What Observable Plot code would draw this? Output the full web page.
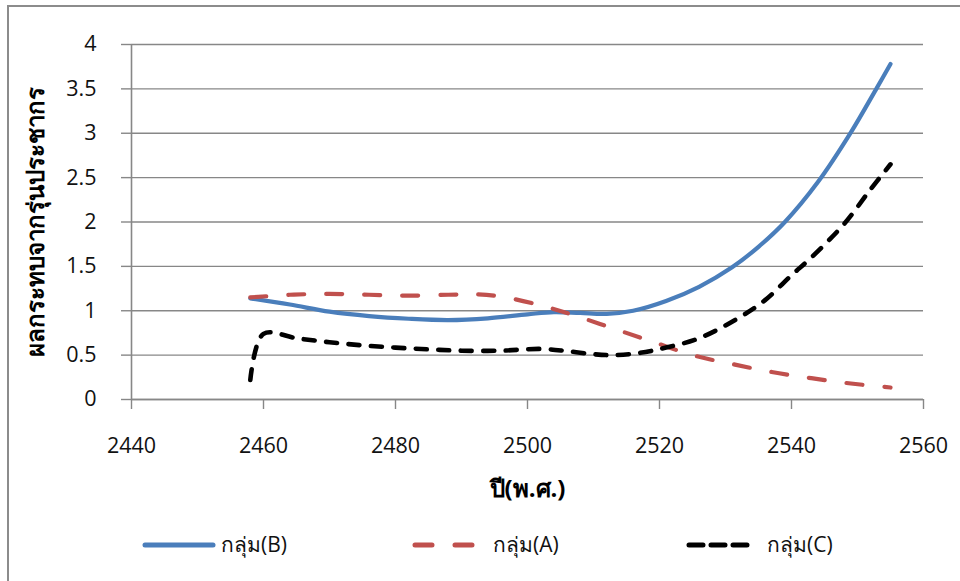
<!DOCTYPE html>
<html><head><meta charset="utf-8">
<script src="https://cdn.jsdelivr.net/npm/d3@7"></script>
<script src="https://cdn.jsdelivr.net/npm/@observablehq/plot@0.6"></script>
<style>
html,body{margin:0;padding:0;background:#fff;width:960px;height:581px;overflow:hidden;font-family:"Open Sans","Noto Sans",sans-serif;}
#frame{position:absolute;left:7px;top:5px;width:1000px;height:1000px;border:2px solid #8c8c8c;box-sizing:border-box;}
#chart{position:absolute;left:0;top:0;}
#legend{position:absolute;left:0;top:520px;}
</style></head><body>
<div id="frame"></div>
<div id="chart"></div>
<div id="legend"></div>
<script>
// ---- data ----
const xTitle = "ปี(พ.ศ.)";
const yTitle = "ผลกระทบจากรุ่นประชากร";
const seriesNames = ["กลุ่ม(B)", "กลุ่ม(A)", "กลุ่ม(C)"];
const xTicks = [2440, 2460, 2480, 2500, 2520, 2540, 2560];
const yTicks = [0, 0.5, 1, 1.5, 2, 2.5, 3, 3.5, 4];

const yearsB  = [2458, 2464, 2470, 2476, 2482, 2488, 2494, 2500, 2504, 2508, 2512, 2516, 2521, 2526, 2531, 2535, 2539, 2544, 2549, 2553, 2555];
const valuesB = [1.14, 1.07, 0.99, 0.94, 0.91, 0.895, 0.915, 0.96, 0.985, 0.975, 0.965, 1.0, 1.11, 1.27, 1.49, 1.72, 2.0, 2.45, 3.01, 3.52, 3.78];

const yearsA  = [2458, 2464, 2470, 2476, 2482, 2488, 2492, 2496, 2502, 2507, 2513, 2519, 2525, 2531, 2537, 2543, 2549, 2555];
const valuesA = [1.15, 1.18, 1.19, 1.18, 1.17, 1.18, 1.185, 1.16, 1.06, 0.95, 0.80, 0.65, 0.50, 0.40, 0.31, 0.24, 0.18, 0.135];

const yearsC  = [2458, 2460, 2465, 2470, 2475, 2480, 2485, 2490, 2496, 2502, 2506, 2510, 2513, 2517, 2521, 2526, 2532, 2536, 2540, 2543, 2548, 2552, 2555];
const valuesC = [0.22, 0.74, 0.69, 0.645, 0.61, 0.585, 0.565, 0.55, 0.55, 0.57, 0.545, 0.51, 0.50, 0.525, 0.585, 0.69, 0.92, 1.12, 1.40, 1.60, 1.98, 2.37, 2.65];

// ---- build tables ----
const toRows = (ys, vs) => ys.map((y, i) => ({year: y, value: vs[i]}));
const dataB = toRows(yearsB, valuesB);
const dataA = toRows(yearsA, valuesA);
const dataC = toRows(yearsC, valuesC);

const FONT = '"Open Sans","Noto Sans",sans-serif';
const GRID = "#878787";
const colors = ["#4a7ebb", "#c0504d", "#000000"];
const dashes = [null, "16 22", "11 11.5"];

const chart = Plot.plot({
  width: 960,
  height: 470,
  marginLeft: 131,
  marginRight: 37,
  marginTop: 44,
  marginBottom: 71,
  x: {domain: [2440, 2560]},
  y: {domain: [0, 4]},
  style: {fontFamily: FONT, fontSize: "21px", color: "#000", background: "transparent", overflow: "visible"},
  marks: [
    Plot.gridY(yTicks, {stroke: GRID, strokeOpacity: 1, strokeWidth: 1.4}),
    Plot.axisY(yTicks, {tickSize: 10, tickPadding: 25, stroke: GRID, strokeOpacity: 1, strokeWidth: 1.4, tickFormat: d => String(d), label: null, fontSize: 21.5, fill: "#111"}),
    Plot.axisX(xTicks, {tickSize: 10, tickPadding: 28, stroke: GRID, strokeOpacity: 1, strokeWidth: 1.4, tickFormat: d => String(d), label: null, fontSize: 21.5, fill: "#111"}),
    Plot.ruleX([2440], {stroke: GRID, strokeWidth: 1.6}),
    Plot.ruleY([0], {stroke: GRID, strokeWidth: 1.6, x1: 2440, x2: 2560}),
    Plot.line(dataB, {x: "year", y: "value", curve: "catmull-rom", stroke: colors[0], strokeWidth: 4.2, strokeLinecap: "round"}),
    Plot.line(dataA, {x: "year", y: "value", curve: "catmull-rom", stroke: colors[1], strokeWidth: 4.2, strokeDasharray: dashes[1], strokeLinecap: "round"}),
    Plot.line(dataC, {x: "year", y: "value", curve: "catmull-rom", stroke: colors[2], strokeWidth: 4.6, strokeDasharray: dashes[2], strokeLinecap: "round"}),
    Plot.text([xTitle], {frameAnchor: "bottom", dy: 97, fontWeight: "bold", fontSize: 24, fill: "#000"}),
    Plot.text([yTitle], {frameAnchor: "left", dx: -95, rotate: -90, textAnchor: "middle", fontWeight: "bold", fontSize: 24, fill: "#000"})
  ]
});
document.getElementById("chart").appendChild(chart);

// ---- legend ----
const legendLayout = [
  {x0: 145, x1: 213, tx: 221},
  {x0: 415, x1: 477, tx: 493},
  {x0: 689, x1: 750, tx: 767}
];
const lsvg = d3.select("#legend").append("svg").attr("width", 960).attr("height", 50)
  .style("font-family", FONT).style("font-size", "21px");
seriesNames.forEach((name, i) => {
  const L = legendLayout[i];
  const ln = lsvg.append("line").attr("x1", L.x0).attr("x2", L.x1).attr("y1", 25).attr("y2", 25)
    .attr("stroke", colors[i]).attr("stroke-width", 5).attr("stroke-linecap", "round");
  if (i === 1) ln.attr("stroke-dasharray", "17 23");
  if (i === 2) ln.attr("stroke-dasharray", "14 8");
  lsvg.append("text").attr("x", L.tx).attr("y", 25).attr("dy", "0.35em").attr("fill", "#111").text(name);
});
</script>
</body></html>
